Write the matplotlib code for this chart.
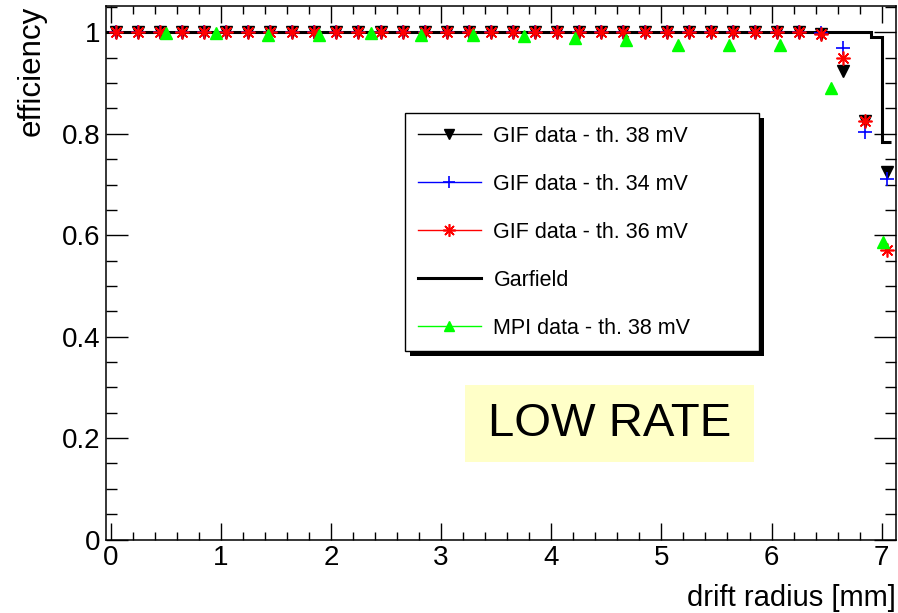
import matplotlib.pyplot as plt
from matplotlib.lines import Line2D
from matplotlib.patches import Rectangle
from matplotlib.ticker import MultipleLocator
from matplotlib.transforms import IdentityTransform

plt.rcParams['font.family'] = ['Liberation Sans', 'DejaVu Sans']

# GIF data: same radii for the three thresholds
gif_radius = [0.05, 0.25, 0.45, 0.65, 0.85, 1.05, 1.25, 1.45, 1.65, 1.85,
              2.05, 2.25, 2.45, 2.65, 2.85, 3.05, 3.25, 3.45, 3.65, 3.85,
              4.05, 4.25, 4.45, 4.65, 4.85, 5.05, 5.25, 5.45, 5.65, 5.85,
              6.05, 6.25, 6.45, 6.65, 6.85, 7.05]
gif_eff_38 = [1.0, 1.0, 1.0, 1.0, 1.0, 1.0, 1.0, 1.0, 1.0, 1.0,
              1.0, 1.0, 1.0, 1.0, 1.0, 1.0, 1.0, 1.0, 1.0, 1.0,
              1.0, 1.0, 1.0, 1.0, 1.0, 1.0, 1.0, 1.0, 1.0, 1.0,
              1.0, 1.0, 0.996, 0.923, 0.826, 0.724]
gif_eff_34 = [1.0, 1.0, 1.0, 1.0, 1.0, 1.0, 1.0, 1.0, 1.0, 1.0,
              1.0, 1.0, 1.0, 1.0, 1.0, 1.0, 1.0, 1.0, 1.0, 1.0,
              1.0, 1.0, 1.0, 1.0, 1.0, 1.0, 1.0, 1.0, 1.0, 1.0,
              1.0, 1.0, 0.998, 0.970, 0.803, 0.711]
gif_eff_36 = [1.0, 1.0, 1.0, 1.0, 1.0, 1.0, 1.0, 1.0, 1.0, 1.0,
              1.0, 1.0, 1.0, 1.0, 1.0, 1.0, 1.0, 1.0, 1.0, 1.0,
              1.0, 1.0, 1.0, 1.0, 1.0, 1.0, 1.0, 1.0, 1.0, 1.0,
              1.0, 1.0, 0.996, 0.949, 0.825, 0.571]

# MPI data, 38 mV threshold
mpi_radius = [0.50, 0.96, 1.43, 1.89, 2.36, 2.82, 3.29, 3.75, 4.22, 4.68,
              5.15, 5.61, 6.08, 6.54, 7.01]
mpi_eff_38 = [0.998, 0.998, 0.995, 0.995, 0.998, 0.995, 0.995, 0.993, 0.988,
              0.984, 0.976, 0.976, 0.976, 0.890, 0.587]

# Garfield simulation histogram
garfield_edges = [-0.05, 6.9, 7.0, 7.08]
garfield_eff = [1.0, 0.991, 0.783]

fig = plt.figure(figsize=(8.98, 6.13), dpi=100)
ax = fig.add_axes([0.1177, 0.1199, 0.8801, 0.8703])

ax.stairs(garfield_eff, garfield_edges, baseline=None, color='k', lw=2.2, zorder=2)
ax.plot(gif_radius, gif_eff_38, ls='none', marker='v', color='k', ms=8, zorder=3)
ax.plot(gif_radius, gif_eff_34, ls='none', marker='+', color='#0000ff', ms=10, mew=1.2, zorder=3)
ax.plot(gif_radius, gif_eff_36, ls='none', marker=(8, 2, 0), color='#ff0000', ms=10, mew=1.2, zorder=3)
ax.plot(mpi_radius, mpi_eff_38, ls='none', marker='^', color='#00ff00', ms=8, zorder=3)

ax.set_xlim(-0.045, 7.13)
ax.set_ylim(0, 1.052)
ax.set_xticks(range(8))
ax.xaxis.set_minor_locator(MultipleLocator(0.2))
ax.set_yticks([0, 0.2, 0.4, 0.6, 0.8, 1.0])
ax.set_yticklabels(['0', '0.2', '0.4', '0.6', '0.8', '1'])
ax.yaxis.set_minor_locator(MultipleLocator(0.05))
ax.tick_params(which='both', direction='in', top=True, right=True,
               labelsize=20, width=1.0)
ax.tick_params(axis='x', which='major', length=12, pad=4)
ax.tick_params(axis='x', which='minor', length=6)
ax.tick_params(axis='y', which='major', length=16, pad=4)
ax.tick_params(axis='y', which='minor', length=8)
for sp in ax.spines.values():
    sp.set_linewidth(1.1)

ax.set_xlabel('drift radius [mm]', loc='right', fontsize=21, labelpad=9)
ax.set_ylabel('efficiency', loc='top', fontsize=22.5, labelpad=11)

handles = [
    Line2D([], [], color='k', lw=1, marker='v', ms=7),
    Line2D([], [], color='#0000ff', lw=1, marker='+', ms=9, mew=1.2),
    Line2D([], [], color='#ff0000', lw=1, marker=(8, 2, 0), ms=9, mew=1.2),
    Line2D([], [], color='k', lw=2.2),
    Line2D([], [], color='#00ff00', lw=1, marker='^', ms=7),
]
labels = ['GIF data - th. 38 mV', 'GIF data - th. 34 mV', 'GIF data - th. 36 mV',
          'Garfield', 'MPI data - th. 38 mV']
leg = ax.legend(handles, labels, loc='upper left',
                bbox_to_anchor=(0.379, 0.7994, 0.448, 0.0), mode='expand',
                borderaxespad=0, fontsize=15.5, handlelength=2.9,
                handletextpad=0.6, labelspacing=1.25, borderpad=0.6,
                fancybox=False, framealpha=1, edgecolor='k')
leg.get_frame().set_linewidth(1.0)
leg.set_zorder(5)

# "LOW RATE" label on a pale yellow box
ax.add_patch(Rectangle((0.4546, 0.1453), 0.3657, 0.1443, transform=ax.transAxes,
                       facecolor='#ffffc8', edgecolor='none', zorder=1))
ax.text(0.6375, 0.2174, 'LOW RATE', transform=ax.transAxes, fontsize=34,
        ha='center', va='center', zorder=2)

# solid black drop shadow behind the legend
fig.canvas.draw()
bb = leg.get_frame().get_window_extent()
ax.add_patch(Rectangle((bb.x0 + 5, bb.y0 - 5), bb.width, bb.height,
                       transform=IdentityTransform(), facecolor='k',
                       edgecolor='none', zorder=4.9, clip_on=False))

fig.savefig('out.png', dpi=100)
